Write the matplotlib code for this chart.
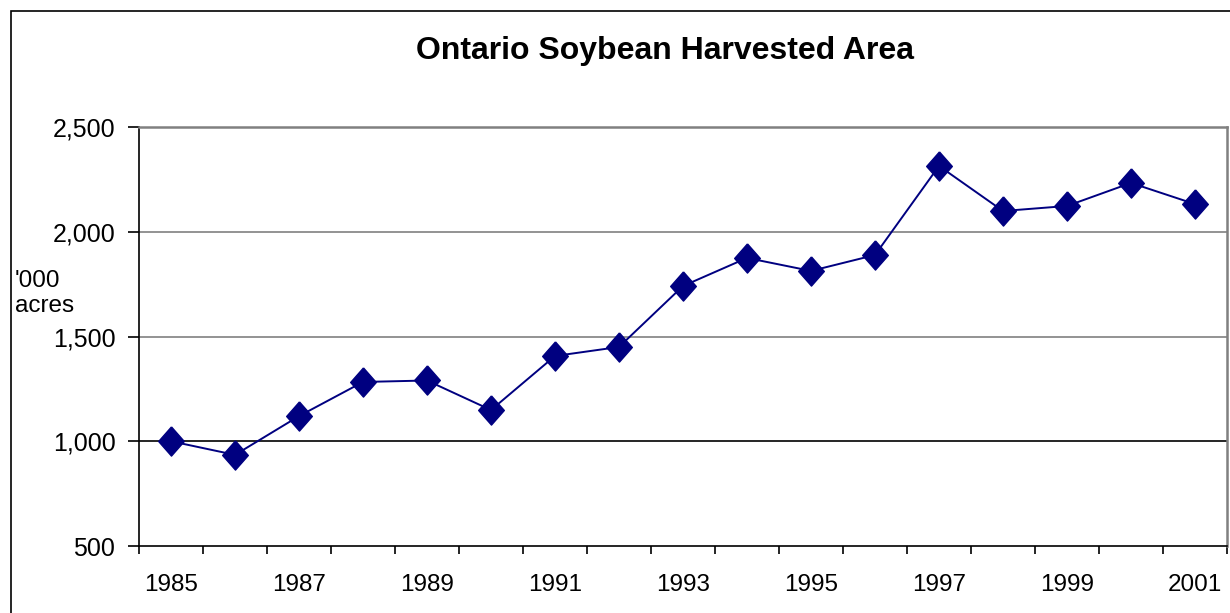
import matplotlib
matplotlib.use("Agg")
import matplotlib.pyplot as plt
from matplotlib.patches import Rectangle
from matplotlib.ticker import FuncFormatter, FixedLocator

plt.rcParams['font.family'] = ['Liberation Sans', 'DejaVu Sans']

years = list(range(1985, 2002))
area = [1000, 935, 1120, 1283, 1290, 1149, 1407, 1450, 1741, 1875,
        1813, 1889, 2314, 2099, 2123, 2233, 2132]
year_labels = [str(y) if (y - 1985) % 2 == 0 else '' for y in years]
title = "Ontario Soybean Harvested Area"
ylabel = "'000\nacres"

W, H = 1230, 613
fig = plt.figure(figsize=(W / 100, H / 100), dpi=100)
fig.patch.set_facecolor('white')

# figure border
fig.add_artist(Rectangle((10.5 / W, -0.2), 1.5, 1.2 - 10.5 / H,
                         transform=fig.transFigure, fill=False,
                         edgecolor='black', linewidth=1.2))

ax = fig.add_axes([139 / W, 1 - 546 / H, (1227 - 139) / W, (546 - 127) / H])
x = list(range(len(years)))

ax.set_xlim(-0.5, len(years) - 0.5)
ax.set_ylim(500, 2500)

# gridlines
for yv, col in [(1000, '#000000'), (1500, '#808080'), (2000, '#808080')]:
    ax.axhline(yv, color=col, linewidth=1.2, zorder=1)

diamond = [(0, 0.5), (0.44, 0), (0, -0.5), (-0.44, 0), (0, 0.5)]
ax.plot(x, area, color='#000080', linewidth=1.4, marker=diamond,
        markersize=21, markerfacecolor='#000080', markeredgecolor='#000080',
        zorder=3, clip_on=False)

ax.set_yticks([500, 1000, 1500, 2000, 2500])
ax.yaxis.set_major_formatter(FuncFormatter(lambda v, p: f"{int(v):,}"))
ax.xaxis.set_major_locator(FixedLocator([i - 0.5 for i in range(len(years) + 1)]))
ax.xaxis.set_major_formatter(FuncFormatter(lambda v, p: ''))
ax.set_xticks(x, minor=True)
ax.set_xticklabels(year_labels, minor=True)
ax.tick_params(axis='x', which='minor', length=0, pad=20, labelsize=17.5)
ax.tick_params(axis='x', which='major', length=6, width=1.2, direction='out', color='black')
ax.tick_params(axis='y', length=8, width=1.2, direction='out', pad=9, labelsize=18)

for side in ['left', 'bottom']:
    ax.spines[side].set_color('black')
    ax.spines[side].set_linewidth(1.2)
for side in ['top', 'right']:
    ax.spines[side].set_color('#808080')
    ax.spines[side].set_linewidth(1.8)

fig.text(665 / W, 1 - 51 / H, title, ha='center', va='center',
         fontsize=23, fontweight='bold')
fig.text(15 / W, 1 - 270 / H, ylabel, ha='left', va='top', fontsize=17.5,
         linespacing=1.2)

fig.savefig('out.png', dpi=100, facecolor='white')
